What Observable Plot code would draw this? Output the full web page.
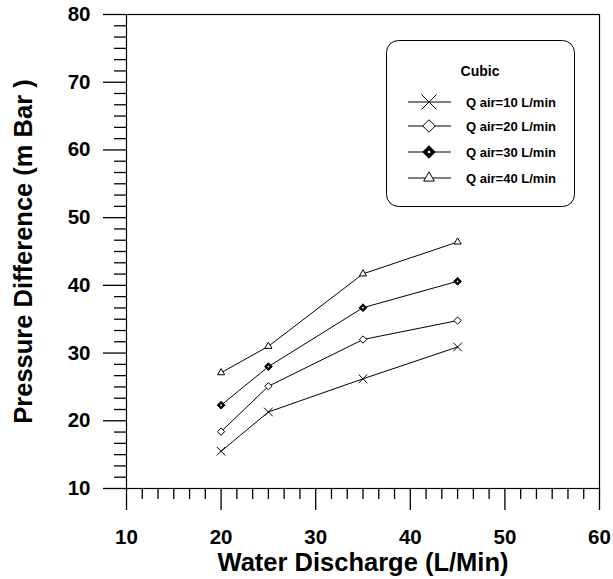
<!DOCTYPE html>
<html>
<head>
<meta charset="utf-8">
<script src="https://cdn.jsdelivr.net/npm/d3@7"></script>
<script src="https://cdn.jsdelivr.net/npm/@observablehq/plot@0.6"></script>
<style>
  html, body { margin: 0; padding: 0; background: #fff; }
  #wrap { position: relative; width: 613px; height: 579px; }
  #legend { position: absolute; left: 386px; top: 40px; }
</style>
</head>
<body>
<div id="wrap"></div>
<script>
// ---- data ----
const discharge = [20, 25, 35, 45];
const qAir10 = [15.5, 21.3, 26.2, 30.9];
const qAir20 = [18.4, 25.1, 32.0, 34.8];
const qAir30 = [22.3, 28.0, 36.7, 40.6];
const qAir40 = [27.1, 31.0, 41.7, 46.4];
const seriesNames = ["Q air=10 L/min", "Q air=20 L/min", "Q air=30 L/min", "Q air=40 L/min"];
const xTicks = [10, 20, 30, 40, 50, 60];
const yTicks = [10, 20, 30, 40, 50, 60, 70, 80];
const legendTitle = "Cubic";
const xTitle = "Water Discharge (L/Min)";
const yTitle = "Pressure Difference (m Bar )";

const seriesValues = [qAir10, qAir20, qAir30, qAir40];
const rows = [];
seriesValues.forEach((vals, s) => vals.forEach((v, i) => rows.push({series: seriesNames[s], x: discharge[i], y: v})));
const bySeries = name => rows.filter(d => d.series === name);

// minor ticks: six subdivisions per major interval
const minorX = [];
for (let i = 0; i < xTicks.length - 1; i++) for (let k = 1; k < 6; k++) minorX.push(xTicks[i] + (xTicks[i+1]-xTicks[i]) * k / 6);
const minorY = [];
for (let i = 0; i < yTicks.length - 1; i++) for (let k = 1; k < 6; k++) minorY.push(yTicks[i] + (yTicks[i+1]-yTicks[i]) * k / 6);

const font = "'Liberation Sans', Arial, Helvetica, sans-serif";

const chart = Plot.plot({
  width: 613,
  height: 579,
  marginLeft: 126,
  marginRight: 14,
  marginTop: 14,
  marginBottom: 91,
  style: {fontFamily: font, background: "#fff", color: "#000"},
  x: {domain: [10, 60]},
  y: {domain: [10, 80]},
  marks: [
    Plot.frame({stroke: "#000", strokeWidth: 1.2}),
    Plot.axisX(minorX, {tickSize: 11, text: null, label: null, strokeWidth: 1.3}),
    Plot.axisX(xTicks, {tickSize: 22, tickPadding: 19, fontSize: 20.5, fontWeight: "bold", label: null, strokeWidth: 1.3}),
    Plot.axisY(minorY, {tickSize: 12, text: null, label: null, strokeWidth: 1.3}),
    Plot.axisY(yTicks, {tickSize: 23, tickPadding: 13, fontSize: 20.5, fontWeight: "bold", label: null, strokeWidth: 1.3}),
    Plot.text([xTitle], {frameAnchor: "bottom", dy: 74, fontSize: 25.5, fontWeight: "bold", lineAnchor: "middle", textAnchor: "middle"}),
    Plot.text([yTitle], {frameAnchor: "left", dx: -103, rotate: -90, fontSize: 25.5, fontWeight: "bold", lineAnchor: "middle", textAnchor: "middle"}),
    Plot.line(rows, {x: "x", y: "y", z: "series", stroke: "#000", strokeWidth: 1}),
    Plot.dot(bySeries(seriesNames[0]), {x: "x", y: "y", symbol: "times", r: 4, stroke: "#000", strokeWidth: 1}),
    Plot.dot(bySeries(seriesNames[1]), {x: "x", y: "y", symbol: "diamond2", r: 3.3, stroke: "#000", fill: "#fff", strokeWidth: 1}),
    Plot.dot(bySeries(seriesNames[2]), {x: "x", y: "y", symbol: "diamond2", r: 3.5, stroke: "#000", fill: "#000", strokeWidth: 1}),
    Plot.dot(bySeries(seriesNames[2]), {x: "x", y: "y", r: 0.9, fill: "#fff", stroke: null}),
    Plot.dot(bySeries(seriesNames[3]), {x: "x", y: "y", symbol: "triangle2", r: 3.4, stroke: "#000", fill: "#fff", strokeWidth: 1})
  ]
});
document.getElementById("wrap").appendChild(chart);

// ---- legend (overlay inside the plot frame) ----
const lw = 188, lh = 166;
const leg = d3.select("#wrap").append("svg")
  .attr("id", "legend").attr("width", lw + 2).attr("height", lh + 2)
  .style("font-family", font);
leg.append("rect").attr("x", 0.5).attr("y", 0.5).attr("width", lw).attr("height", lh)
  .attr("rx", 12).attr("fill", "#fff").attr("stroke", "#000").attr("stroke-width", 1);
leg.append("text").attr("x", 94).attr("y", 31).attr("dy", "0.35em").attr("text-anchor", "middle")
  .attr("font-size", 14).attr("font-weight", "bold").text(legendTitle);
const legRowsY = [62, 86, 112, 138];
const legSym = [
  {type: d3.symbolTimes, size: 148, fill: "none"},
  {type: d3.symbolDiamond2, size: 100, fill: "#fff"},
  {type: d3.symbolDiamond2, size: 100, fill: "#000"},
  {type: d3.symbolTriangle2, size: 82, fill: "#fff"}
];
seriesNames.forEach((name, i) => {
  const g = leg.append("g").attr("transform", `translate(0,${legRowsY[i]})`);
  g.append("line").attr("x1", 22).attr("x2", 65).attr("y1", 0).attr("y2", 0).attr("stroke", "#000").attr("stroke-width", 1);
  g.append("path").attr("transform", "translate(43,0)")
    .attr("d", d3.symbol(legSym[i].type, legSym[i].size)())
    .attr("fill", legSym[i].fill).attr("stroke", "#000").attr("stroke-width", 1);
  if (i === 2) g.append("circle").attr("cx", 43).attr("cy", 0).attr("r", 1.3).attr("fill", "#fff");
  g.append("text").attr("x", 80).attr("y", 0).attr("dy", "0.35em")
    .attr("font-size", 13).attr("font-weight", "bold").text(name);
});
</script>
</body>
</html>
